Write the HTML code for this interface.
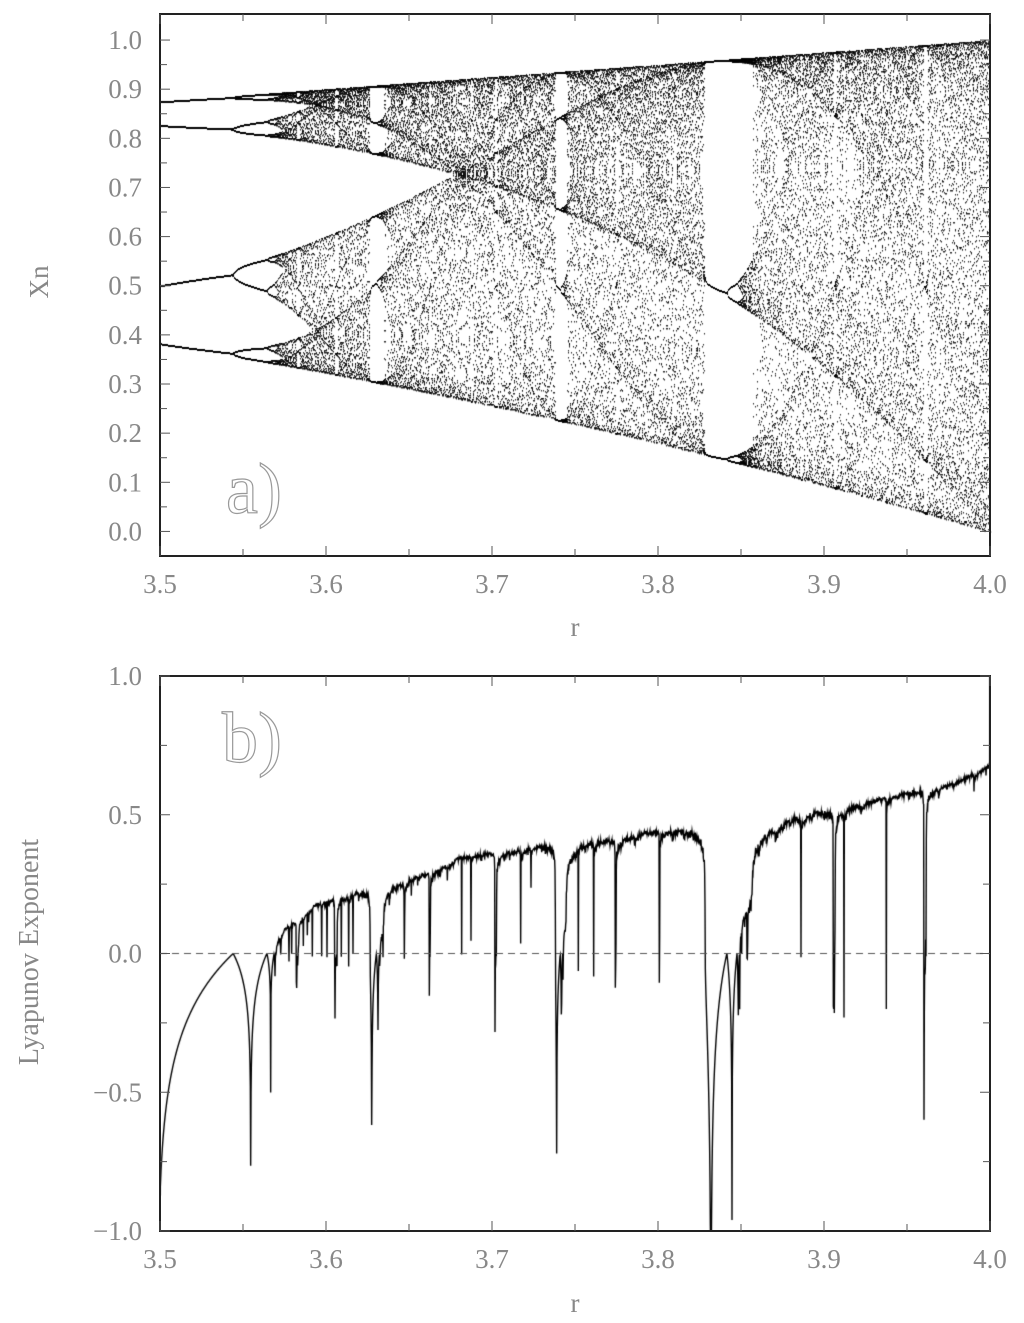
<!DOCTYPE html>
<html><head><meta charset="utf-8"><style>
body{margin:0;background:#fff;width:1024px;height:1323px;overflow:hidden;position:relative;font-family:"Liberation Serif",serif}
canvas,svg{position:absolute;left:0;top:0}
</style></head><body>
<canvas id="cv" width="1024" height="1323"></canvas>
<svg id="sv" width="1024" height="1323"></svg>
<script>
// data parameters
const rRange=[3.5,4.0];
const topYRange=[-0.05,1.053];
const botYRange=[-1.0,1.0];
const xTicks=[3.5,3.6,3.7,3.8,3.9,4.0];
const topYTicks=[0.0,0.1,0.2,0.3,0.4,0.5,0.6,0.7,0.8,0.9,1.0];
const botYTicks=[-1.0,-0.5,0.0,0.5,1.0];
const botYTickLabels=["\u22121.0","\u22120.5","0.0","0.5","1.0"];

const L=160,R=990;
const A={t:14,b:556}, B={t:676,b:1231};
const xs=r=>L+(r-rRange[0])/(rRange[1]-rRange[0])*(R-L);
const yA=v=>A.b-(v-topYRange[0])/(topYRange[1]-topYRange[0])*(A.b-A.t);
const yB=v=>B.b-(v-botYRange[0])/(botYRange[1]-botYRange[0])*(B.b-B.t);

const cv=document.getElementById('cv'),c=cv.getContext('2d');
// bifurcation (logistic map iteration)
c.fillStyle='rgba(0,0,0,0.85)';
for(let i=0;i<=(R-L);i++){
  const r=rRange[0]+i/(R-L)*(rRange[1]-rRange[0]);
  let x=0.5;
  for(let k=0;k<600;k++)x=r*x*(1-x);
  for(let k=0;k<60;k++){x=r*x*(1-x);c.fillRect(Math.round(xs(r)),Math.round(yA(x)),1,1.5);}
}
// lyapunov
c.save();c.beginPath();c.rect(L,B.t,R-L,B.b-B.t);c.clip();
c.strokeStyle='#000';c.lineWidth=1.4;c.beginPath();
const N=(R-L)*3;
for(let i=0;i<=N;i++){
  const r=rRange[0]+i/N*(rRange[1]-rRange[0]);
  let x=0.5,s=0;
  for(let k=0;k<300;k++)x=r*x*(1-x);
  const M=4000;
  for(let k=0;k<M;k++){x=r*x*(1-x);s+=Math.log(Math.abs(r*(1-2*x))+1e-12);}
  let l=Math.max(-1.05,s/M);
  i?c.lineTo(xs(r),yB(l)):c.moveTo(xs(r),yB(l));
}
c.stroke();c.restore();
// dashed zero
c.strokeStyle='#555';c.lineWidth=1;c.setLineDash([7,5]);c.beginPath();c.moveTo(L,yB(0));c.lineTo(R,yB(0));c.stroke();c.setLineDash([]);

const sv=document.getElementById('sv');const NS='http://www.w3.org/2000/svg';
function el(t,a,txt){const e=document.createElementNS(NS,t);for(const k in a)e.setAttribute(k,a[k]);if(txt!==undefined)e.textContent=txt;sv.appendChild(e);return e;}
function panel(P,yf,yt,ylab,name,minorY){
  const f=el('rect',{x:L,y:P.t,width:R-L,height:P.b-P.t,fill:'none',stroke:'#222','stroke-width':2});
  
  
  for(let v=3.5;v<=4.0001;v+=0.05){const X=xs(v);const len=Math.abs((v*10)%1)<0.01||Math.abs((v*10)%1)>0.99?10:7;
    el('line',{x1:X,y1:P.b,x2:X,y2:P.b-len,stroke:'#555'});el('line',{x1:X,y1:P.t,x2:X,y2:P.t+len,stroke:'#555'});}
  for(let v=minorY[0];v<=minorY[1]+1e-6;v+=minorY[2]){const Y=yf(v);const maj=yt.some(t=>Math.abs(t-v)<1e-6);const len=maj?10:7;
    el('line',{x1:L,y1:Y,x2:L+len,y2:Y,stroke:'#555'});el('line',{x1:R,y1:Y,x2:R-len,y2:Y,stroke:'#555'});}
  xTicks.forEach(v=>{const t=el('text',{x:xs(v),y:P.b+37,'text-anchor':'middle','font-size':27,fill:'#888','font-family':'Liberation Serif, serif'},v.toFixed(1));
    });
  yt.forEach((v,i)=>{const t=el('text',{x:142,y:yf(v)+9,'text-anchor':'end','font-size':27,fill:'#888','font-family':'Liberation Serif, serif'},ylab[i]);
    });
}
panel(A,yA,topYTicks,topYTicks.map(v=>v.toFixed(1)),'bifurcation',[0,1.0,0.05]);
panel(B,yB,botYTicks,botYTickLabels,'lyapunov',[-1,1,0.25]);
function lab(x,y,txt,rot,name,size){const a={x:x,y:y,'text-anchor':'middle','font-size':size||27,fill:'#888','font-family':'Liberation Serif, serif'};if(rot)a.transform='rotate(-90 '+x+' '+y+')';const t=el('text',a,txt);
  }
lab(575,636,'r',0,'x-axis-title-top');
lab(575,1312,'r',0,'x-axis-title-bottom');
lab(48,282,'Xn',1,'y-axis-title-top');
lab(38,952,'Lyapunov Exponent',1,'y-axis-title-bottom',28);
function big(x,y,txt,name){const t=el('text',{x:x,y:y,'font-size':72,fill:'#fff',stroke:'#999','stroke-width':1.2,'font-family':'Liberation Serif, serif'},txt);
  }
big(226,513,'a)','panel-label-a');
big(222,762,'b)','panel-label-b');
</script>
</body></html>
